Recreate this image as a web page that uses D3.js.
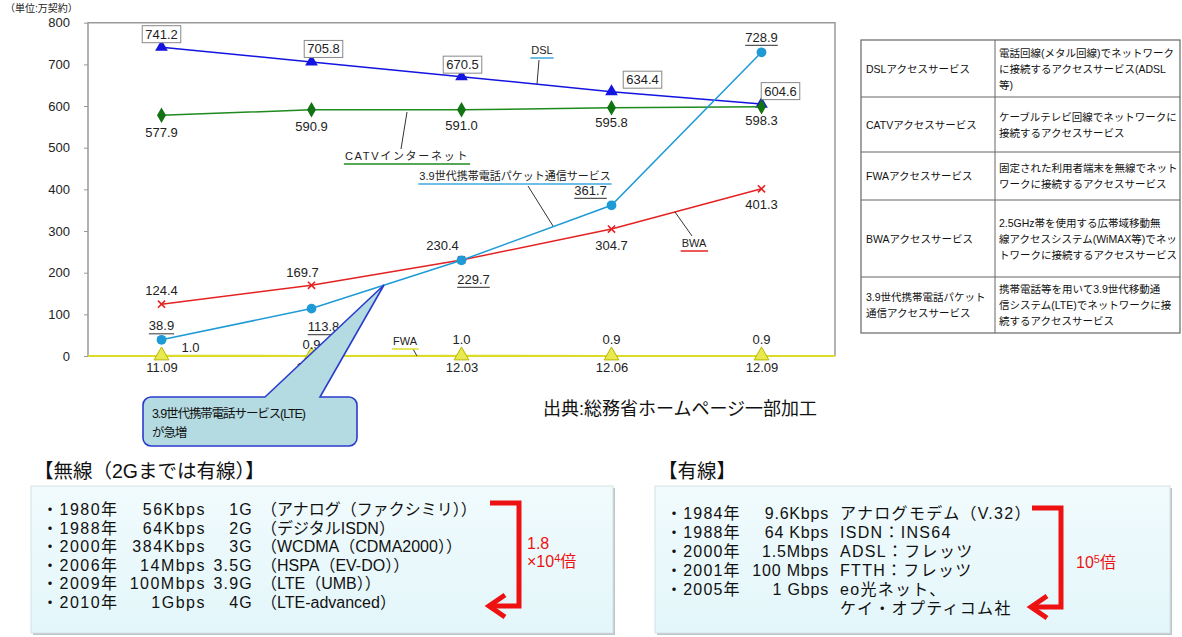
<!DOCTYPE html>
<html lang="ja">
<head>
<meta charset="UTF-8">
<title>ブロードバンド契約数の推移</title>
<style>
  body { margin: 0; background: #fff; }
  svg { display: block; font-family: "Liberation Sans", Arial, "Noto Sans CJK JP", sans-serif; }
  .axis path { display: none; }
  .axis line { stroke: #999; }
  .axis text { font-size: 13px; fill: #222; }
</style>
</head>
<body>
<svg width="1182" height="637"></svg>
<script src="https://d3js.org/d3.v7.min.js"></script>
<script>
// ---- data ----
const periods = ["11.09", "11.12", "12.03", "12.06", "12.09"];
const dsl  = [741.2, 705.8, 670.5, 634.4, 604.6];
const catv = [577.9, 590.9, 591.0, 595.8, 598.3];
const lte  = [38.9, 113.8, 229.7, 361.7, 728.9];
const bwa  = [124.4, 169.7, 230.4, 304.7, 401.3];
const fwa  = [1.0, 0.9, 1.0, 0.9, 0.9];
const yTicks = [0, 100, 200, 300, 400, 500, 600, 700, 800];

const tableTerms = [
  ["DSLアクセスサービス"], ["CATVアクセスサービス"], ["FWAアクセスサービス"],
  ["BWAアクセスサービス"], ["3.9世代携帯電話パケット", "通信アクセスサービス"]
];
const tableDescs = [
  ["電話回線(メタル回線)でネットワーク", "に接続するアクセスサービス(ADSL", "等)"],
  ["ケーブルテレビ回線でネットワークに", "接続するアクセスサービス"],
  ["固定された利用者端末を無線でネット", "ワークに接続するアクセスサービス"],
  ["2.5GHz帯を使用する広帯域移動無", "線アクセスシステム(WiMAX等)でネッ", "トワークに接続するアクセスサービス"],
  ["携帯電話等を用いて3.9世代移動通", "信システム(LTE)でネットワークに接", "続するアクセスサービス"]
];

const wlYears  = ["1980", "1988", "2000", "2006", "2009", "2010"];
const wlSpeeds = ["56Kbps", "64Kbps", "384Kbps", "14Mbps", "100Mbps", "1Gbps"];
const wlGens   = ["1G", "2G", "3G", "3.5G", "3.9G", "4G"];
const wlDescs  = ["（アナログ（ファクシミリ））", "（デジタルISDN）", "（WCDMA（CDMA2000））",
                  "（HSPA（EV-DO））", "（LTE（UMB））", "（LTE-advanced）"];

const wdYears  = ["1984", "1988", "2000", "2001", "2005", ""];
const wdSpeeds = ["9.6Kbps", "64 Kbps", "1.5Mbps", "100 Mbps", "1 Gbps", ""];
const wdDescs  = ["アナログモデム（V.32）", "ISDN：INS64", "ADSL：フレッツ", "FTTH：フレッツ",
                  "eo光ネット、", "ケイ・オプティコム社"];

// ---- chart ----
const svg = d3.select("svg");
const plot = { left: 88, right: 835, top: 22.7, bottom: 356 };

const x = d3.scalePoint().domain(periods).range([plot.left, plot.right]).padding(0.49);
const y = d3.scaleLinear().domain([0, 800]).range([plot.bottom, plot.top]);

// frame
svg.append("path")
  .attr("d", `M${plot.left},${plot.bottom}V${plot.top}H${plot.right}V${plot.bottom}`)
  .attr("fill", "none").attr("stroke", "#9a9a9a").attr("stroke-width", 1.5);

svg.append("g").attr("class", "axis")
  .attr("transform", `translate(${plot.left},0)`)
  .call(d3.axisLeft(y).tickValues(yTicks).tickSize(4).tickPadding(14));

svg.append("g").attr("class", "axis")
  .attr("transform", `translate(0,${plot.bottom})`)
  .call(d3.axisBottom(x).tickSize(0).tickPadding(7));

svg.append("line")
  .attr("x1", plot.left).attr("x2", plot.right)
  .attr("y1", plot.bottom).attr("y2", plot.bottom)
  .attr("stroke", "#dcdc28").attr("stroke-width", 1.8);

svg.append("text").attr("x", 5).attr("y", 12)
  .attr("font-size", 10).attr("fill", "#222").text("（単位:万契約）");

const series = [
  { vals: dsl, color: "#1414e0", sym: d3.symbolTriangle, size: 70, fill: "#1414e0",
    off: [[0, -13], [12, -13], [1, -12], [31, -12], [19, -13]], box: true },
  { vals: catv, color: "#1f8a1f", sym: d3.symbolDiamond, size: 70, fill: "#127312",
    off: [[0, 17], [0, 17], [0, 16], [0, 15], [0, 14]] },
  { vals: bwa, color: "#e42222", sym: d3.symbolTimes || d3.symbolX, size: 35, stroke: true,
    off: [[0, -14], [-9, -13], [-19, -15], [0, 16], [0, 16]] },
  { vals: lte, color: "#1e9ad6", sym: d3.symbolCircle, size: 75, fill: "#1e9ad6",
    off: [[0, -14], [12, 18], [12, 19], [-21, -15], [0, -15]], under: true },
  { vals: fwa, color: "#dcdc28", sym: d3.symbolTriangle, size: 95, fill: "#e8e850", edge: "#b5b500",
    off: [[29, -8], [0, -11], [0, -16], [0, -16], [0, -16]] }
];

const line = d3.line().x((d, i) => x(periods[i])).y(d => y(d));

series.forEach(s => {
  const g = svg.append("g");
  g.append("path").datum(s.vals).attr("d", line)
    .attr("fill", "none").attr("stroke", s.color).attr("stroke-width", 1.5);
  g.selectAll("path.m").data(s.vals).join("path").attr("class", "m")
    .attr("transform", (d, i) => `translate(${x(periods[i])},${y(d)})`)
    .attr("d", d3.symbol().type(s.sym).size(s.size))
    .attr("fill", s.stroke ? "none" : s.fill)
    .attr("stroke", s.stroke ? s.color : (s.edge || "none"))
    .attr("stroke-width", s.stroke ? 1.6 : 1);
  s.vals.forEach((d, i) => {
    const lx = x(periods[i]) + s.off[i][0], ly = y(d) + s.off[i][1];
    const t = g.append("text").attr("x", lx).attr("y", ly)
      .attr("text-anchor", "middle").attr("dominant-baseline", "central")
      .attr("font-size", 13).attr("fill", "#222").text(d.toFixed(1));
    if (s.box) {
      const b = t.node().getBBox();
      g.insert("rect", "text").attr("x", b.x - 3).attr("y", ly - 8.5)
        .attr("width", b.width + 6).attr("height", 17)
        .attr("fill", "#fff").attr("stroke", "#888");
    }
    if (s.under) {
      const b = t.node().getBBox();
      g.append("line").attr("x1", b.x).attr("x2", b.x + b.width)
        .attr("y1", ly + 8).attr("y2", ly + 8).attr("stroke", "#555").attr("stroke-width", 1.2);
    }
  });
});

// series names with leader lines
const names = [
  { t: "DSL", x: 542, y: 50, c: "#3fa8dc", lead: [539, 60, 537, 84] },
  { t: "CATVインターネット", x: 407, y: 156, c: "#1f8a1f", lead: [401, 149, 407, 112], ls: 1.7 },
  { t: "3.9世代携帯電話パケット通信サービス", x: 515, y: 176, c: "#3fa8dc", lead: [528, 186, 553, 226] },
  { t: "BWA", x: 694, y: 243, c: "#e42222", lead: [675, 212, 692, 236] },
  { t: "FWA", x: 405, y: 341, c: "#dcdc28", lead: [413, 349, 417, 356] }
];
names.forEach(n => {
  svg.append("line").attr("x1", n.lead[0]).attr("y1", n.lead[1])
    .attr("x2", n.lead[2]).attr("y2", n.lead[3]).attr("stroke", "#333");
  const t = svg.append("text").attr("x", n.x).attr("y", n.y)
    .attr("text-anchor", "middle").attr("dominant-baseline", "central")
    .attr("font-size", 11).attr("letter-spacing", n.ls || 0).attr("fill", "#222").text(n.t);
  const b = t.node().getBBox();
  svg.append("line").attr("x1", b.x - 1).attr("x2", b.x + b.width + 1)
    .attr("y1", n.y + 8).attr("y2", n.y + 8).attr("stroke", n.c).attr("stroke-width", 1.5);
});

// callout
const cb = { x0: 143, x1: 357, y0: 397, y1: 446, r: 8 };
const cp = d3.path();
cp.moveTo(cb.x0 + cb.r, cb.y0);
cp.lineTo(265, cb.y0); cp.lineTo(384, 285); cp.lineTo(320, cb.y0);
cp.lineTo(cb.x1 - cb.r, cb.y0);
cp.arcTo(cb.x1, cb.y0, cb.x1, cb.y0 + cb.r, cb.r);
cp.lineTo(cb.x1, cb.y1 - cb.r);
cp.arcTo(cb.x1, cb.y1, cb.x1 - cb.r, cb.y1, cb.r);
cp.lineTo(cb.x0 + cb.r, cb.y1);
cp.arcTo(cb.x0, cb.y1, cb.x0, cb.y1 - cb.r, cb.r);
cp.lineTo(cb.x0, cb.y0 + cb.r);
cp.arcTo(cb.x0, cb.y0, cb.x0 + cb.r, cb.y0, cb.r);
cp.closePath();
svg.append("path").attr("d", cp.toString())
  .attr("fill", "#b4dbe1").attr("stroke", "#2a3ccc").attr("stroke-width", 1.6);
svg.append("text").attr("x", 152).attr("y", 418).attr("font-size", 12.5).attr("letter-spacing", -1.1)
  .attr("fill", "#111").text("3.9世代携帯電話サービス(LTE)");
svg.append("text").attr("x", 152).attr("y", 437).attr("font-size", 12.5).attr("letter-spacing", -1.1)
  .attr("fill", "#111").text("が急増");

svg.append("text").attr("x", 543).attr("y", 415).attr("font-size", 18).attr("fill", "#111")
  .text("出典:総務省ホームページ一部加工");

// ---- table ----
const tab = { x0: 861, xm: 995, x1: 1180 };
const rowEdges = [40, 97, 152, 200, 277, 333];
svg.append("rect").attr("x", tab.x0).attr("y", rowEdges[0])
  .attr("width", tab.x1 - tab.x0).attr("height", rowEdges[5] - rowEdges[0])
  .attr("fill", "#fff").attr("stroke", "#666").attr("stroke-width", 1.2);
svg.append("line").attr("x1", tab.xm).attr("x2", tab.xm)
  .attr("y1", rowEdges[0]).attr("y2", rowEdges[5]).attr("stroke", "#666");
rowEdges.slice(1, 5).forEach(e => svg.append("line")
  .attr("x1", tab.x0).attr("x2", tab.x1).attr("y1", e).attr("y2", e).attr("stroke", "#666"));
tableTerms.forEach((term, i) => {
  const cy = (rowEdges[i] + rowEdges[i + 1]) / 2;
  const lh = 16;
  term.forEach((s, j) => svg.append("text").attr("x", tab.x0 + 5)
    .attr("y", cy + (j - (term.length - 1) / 2) * lh).attr("dominant-baseline", "central")
    .attr("font-size", 10.5).attr("fill", "#111").text(s));
  const desc = tableDescs[i];
  desc.forEach((s, j) => svg.append("text").attr("x", tab.xm + 4)
    .attr("y", cy + (j - (desc.length - 1) / 2) * lh).attr("dominant-baseline", "central")
    .attr("font-size", 10.5).attr("fill", "#111").text(s));
});

// ---- bottom boxes ----
const defs = svg.append("defs");
const gr = defs.append("linearGradient").attr("id", "bg").attr("x1", 0).attr("y1", 0).attr("x2", 0).attr("y2", 1);
gr.append("stop").attr("offset", 0).attr("stop-color", "#f1fbfd");
gr.append("stop").attr("offset", 1).attr("stop-color", "#e3f6fa");

function panel(x0, x1, title) {
  svg.append("rect").attr("x", x0 + 2).attr("y", 488).attr("width", x1 - x0).attr("height", 147)
    .attr("fill", "#bfc6c8");
  svg.append("rect").attr("x", x0).attr("y", 486).attr("width", x1 - x0).attr("height", 147)
    .attr("fill", "url(#bg)").attr("stroke", "#d4e2e6");
  svg.append("text").attr("x", x0 + 3).attr("y", 478).attr("font-size", 19.5).attr("fill", "#111")
    .text(title);
}
panel(31, 613, "【無線（2Gまでは有線）】");
panel(655, 1170, "【有線】");

function bracket(xa, xb, yTop, yBot, tip) {
  svg.append("path")
    .attr("d", `M${xa},${yTop}H${xb}V${yBot}H${tip + 2}`)
    .attr("fill", "none").attr("stroke", "#ee1111").attr("stroke-width", 5);
  svg.append("path")
    .attr("d", `M${tip + 16},${yBot - 11}L${tip},${yBot}L${tip + 16},${yBot + 11}`)
    .attr("fill", "none").attr("stroke", "#ee1111").attr("stroke-width", 5)
    .attr("stroke-linejoin", "miter");
}

wlYears.forEach((yr, i) => {
  const ly = 515 + i * 18.6;
  const row = svg.append("g").attr("font-size", 16).attr("fill", "#111");
  row.append("text").attr("x", 42).attr("y", ly).attr("letter-spacing", 1.5).text("・" + yr + "年");
  row.append("text").attr("x", 206).attr("y", ly).attr("text-anchor", "end").attr("letter-spacing", 1.5).text(wlSpeeds[i]);
  row.append("text").attr("x", 253).attr("y", ly).attr("text-anchor", "end").attr("letter-spacing", 1.2).text(wlGens[i]);
  row.append("text").attr("x", 261).attr("y", ly).text(wlDescs[i]);
});
bracket(490, 519, 503, 606, 489);
const r1 = svg.append("text").attr("x", 527).attr("y", 549).attr("font-size", 16).attr("fill", "#ee1111").text("1.8");
const r2 = svg.append("text").attr("x", 527).attr("y", 567).attr("font-size", 16).attr("fill", "#ee1111");
r2.append("tspan").text("×10");
r2.append("tspan").attr("font-size", 11).attr("dy", -5).text("4");
r2.append("tspan").attr("dy", 5).text("倍");

wdDescs.forEach((ds, i) => {
  const ly = 519 + i * 19;
  const row = svg.append("g").attr("font-size", 16).attr("fill", "#111");
  if (wdYears[i]) {
    row.append("text").attr("x", 666).attr("y", ly).attr("letter-spacing", 1.2).text("・" + wdYears[i] + "年");
    row.append("text").attr("x", 829).attr("y", ly).attr("text-anchor", "end").attr("letter-spacing", 0.8).text(wdSpeeds[i]);
  }
  row.append("text").attr("x", 840).attr("y", ly).attr("letter-spacing", 1.3).text(ds);
});
bracket(1032, 1061, 508, 607, 1031);
const r3 = svg.append("text").attr("x", 1076).attr("y", 568).attr("font-size", 16).attr("fill", "#ee1111");
r3.append("tspan").text("10");
r3.append("tspan").attr("font-size", 11).attr("dy", -5).text("5");
r3.append("tspan").attr("dy", 5).text("倍");
</script>
</body>
</html>
